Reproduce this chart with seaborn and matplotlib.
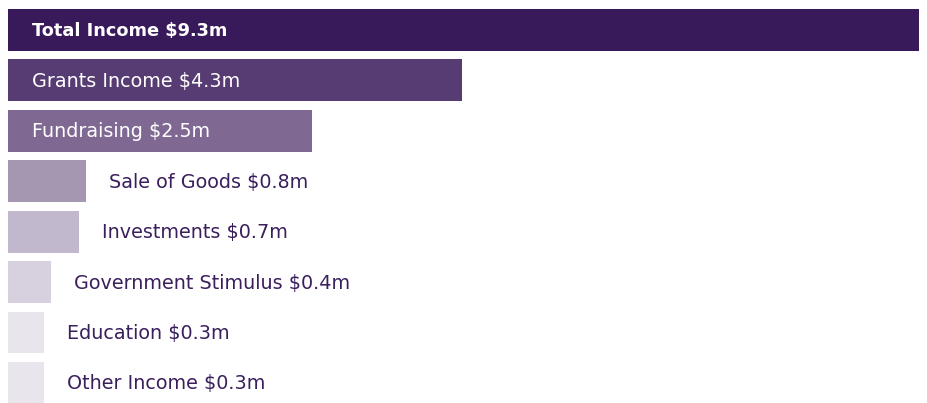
import numpy as np
import pandas as pd
import matplotlib
matplotlib.use("Agg")
import matplotlib.pyplot as plt
import seaborn as sns

# ── Data ──────────────────────────────────────────────────────────────────────
categories  = ["Total Income", "Grants Income", "Fundraising", "Sale of Goods",
               "Investments", "Government Stimulus", "Education", "Other Income"]
amounts     = [9.3, 4.3, 2.5, 0.8, 0.7, 0.4, 0.3, 0.3]          # $m, as labelled
bar_lengths = [9.3, 4.63, 3.1, 0.8, 0.72, 0.44, 0.37, 0.37]     # drawn length
colors      = ["#381a5a", "#563c73", "#7f6993", "#a596b1",
               "#c2b8cd", "#d7d1df", "#e8e6ec", "#e8e6ec"]
inside      = [True, True, True, False, False, False, False, False]

df = pd.DataFrame({"category": categories, "length": bar_lengths})

# ── Plot ──────────────────────────────────────────────────────────────────────
sns.set_style("white")
plt.rcParams["font.family"] = ["DejaVu Sans"]

fig = plt.figure(figsize=(9.27, 4.03), dpi=100)
ax = fig.add_axes([0, 0, 1, 1])

sns.barplot(data=df, x="length", y="category", hue="category",
            palette=colors, orient="h", width=0.83, legend=False,
            saturation=1, linewidth=0, ax=ax)

px = 1 / 98.0  # data units per pixel along x
ax.set_xlim(-8 * px, 919 * px)
ax.set_ylim(7.4, -0.595)

text_dark = "#3a1f5c"
for i, (cat, amt, ln, ins) in enumerate(zip(categories, amounts, bar_lengths, inside)):
    label = f"{cat} ${amt:.1f}m"
    if ins:
        ax.text(24 * px, i + 0.02, label, color="white", va="center", ha="left",
                fontsize=12.8 if i == 0 else 13.8,
                fontweight="bold" if i == 0 else "normal")
    else:
        ax.text(ln + 23 * px, i + 0.02, label, color=text_dark, va="center", ha="left",
                fontsize=13.8)

ax.set_axis_off()
fig.savefig("out.png", dpi=100)
